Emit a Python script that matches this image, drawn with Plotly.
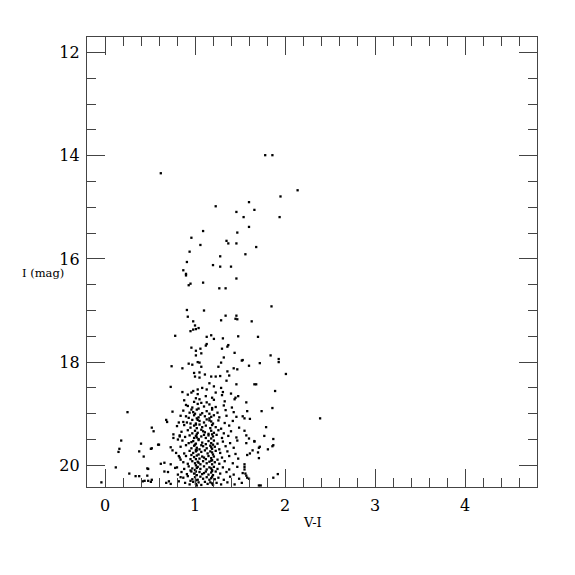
import plotly.graph_objects as go

# (V-I, I) pairs, grouped by region of the diagram
bright_stars = [
    (1.78, 13.99), (1.86, 13.99), (0.62, 14.34), (2.14, 14.67), (1.95, 14.79),
    (1.60, 14.90), (1.23, 14.98), (1.66, 15.05), (1.46, 15.09), (1.54, 15.19),
    (1.94, 15.19), (1.60, 15.38), (1.09, 15.46), (1.47, 15.49), (0.96, 15.59),
    (1.35, 15.65), (1.37, 15.70), (1.46, 15.70), (1.06, 15.73), (1.68, 15.77),
    (0.94, 15.86), (1.28, 15.95), (1.56, 15.91),
]

giant_stars = [
    (0.91, 16.06), (1.20, 16.12), (1.28, 16.15), (1.40, 16.15), (0.87, 16.22),
    (0.90, 16.29), (0.90, 16.32), (1.46, 16.38), (0.95, 16.48), (1.09, 16.46),
    (0.93, 16.51), (1.27, 16.57), (1.34, 16.57), (1.85, 16.92), (0.91, 16.99),
    (1.10, 17.00), (0.92, 17.12), (1.34, 17.10), (1.46, 17.10), (1.45, 17.16),
    (1.47, 17.17), (1.29, 17.19), (1.63, 17.21), (0.98, 17.21), (1.00, 17.29),
    (1.04, 17.34), (0.98, 17.37), (1.01, 17.36), (0.95, 17.40), (0.78, 17.49),
    (1.18, 17.48), (1.13, 17.51), (1.48, 17.50), (1.70, 17.51), (1.21, 17.55),
    (1.31, 17.54), (1.13, 17.65), (1.12, 17.68), (1.37, 17.67), (1.36, 17.70),
    (0.96, 17.72), (1.06, 17.74), (1.30, 17.74), (1.01, 17.78), (1.07, 17.83),
    (1.44, 17.82), (1.01, 17.87), (1.84, 17.87), (1.32, 17.91), (1.53, 17.96),
    (1.93, 17.94), (1.93, 18.00), (1.29, 18.01), (1.72, 18.02), (1.03, 18.00),
    (1.05, 18.01), (1.07, 18.09), (0.74, 18.08), (0.93, 18.03), (0.97, 18.05),
    (0.86, 18.12), (1.26, 18.09), (1.43, 18.12), (1.60, 18.07), (1.52, 17.97),
    (2.01, 18.23), (0.99, 18.21), (1.05, 18.20), (1.11, 18.24), (1.18, 18.28),
    (1.23, 18.28), (1.28, 18.27), (1.36, 18.18), (1.38, 18.26), (1.47, 18.14),
    (1.00, 18.28), (1.05, 18.30), (1.35, 18.36), (1.46, 18.43), (1.66, 18.43),
    (1.68, 18.43), (1.16, 18.41), (1.21, 18.47), (1.29, 18.50), (1.08, 18.50),
    (1.13, 18.53), (0.96, 18.59), (0.98, 18.56), (1.03, 18.53), (1.23, 18.59),
    (1.31, 18.58), (1.40, 18.61), (1.89, 18.56), (0.73, 18.48), (0.86, 18.58),
]

red_outliers = [
    (1.45, 18.69), (1.57, 18.78), (1.86, 18.89), (1.74, 18.95), (1.58, 18.95),
    (2.39, 19.09), (1.55, 19.09), (1.61, 19.10), (1.79, 19.26), (1.55, 19.33),
    (1.77, 19.43), (1.57, 19.42), (1.87, 19.49), (1.60, 19.48), (1.66, 19.54),
    (1.57, 19.57), (1.87, 19.61), (1.72, 19.64), (1.81, 19.69), (1.64, 19.71),
    (1.70, 19.75), (1.61, 19.77), (1.58, 19.80), (1.71, 19.86), (1.55, 19.98),
    (1.55, 20.03), (1.56, 20.16), (1.57, 20.20), (1.60, 20.26), (1.92, 20.17),
    (1.87, 20.24), (1.71, 20.39), (1.73, 20.39), (1.53, 19.05), (1.58, 20.24),
    (1.53, 20.15), (1.55, 20.08), (1.86, 19.63), (1.66, 19.53), (1.71, 19.66),
]

blue_stars = [
    (0.25, 18.97), (0.75, 18.96), (0.68, 19.12), (0.69, 19.16), (0.52, 19.27),
    (0.54, 19.34), (0.18, 19.52), (0.16, 19.68), (0.15, 19.74), (0.40, 19.58),
    (0.38, 19.73), (0.51, 19.68), (0.43, 19.83), (0.59, 19.60), (0.62, 19.97),
    (0.12, 20.04), (0.48, 20.07), (0.27, 20.16), (0.34, 20.21), (0.38, 20.21),
    (0.44, 20.30), (0.48, 20.30), (0.47, 20.20), (0.52, 20.28), (-0.04, 20.33),
    (0.66, 20.12), (0.70, 20.13), (0.68, 20.34), (0.76, 19.40), (0.83, 19.42),
    (0.82, 19.17), (0.87, 19.16), (0.90, 19.05), (0.94, 18.98), (0.96, 18.92),
    (0.92, 18.85), (0.52, 19.67), (0.60, 19.60), (0.73, 19.65), (0.75, 19.71),
    (0.76, 19.47), (0.81, 19.50), (0.83, 19.44), (0.66, 19.95), (0.79, 19.76),
    (0.82, 19.82), (0.84, 19.89), (0.47, 20.06), (0.73, 19.98), (0.78, 20.05),
    (0.81, 20.18), (0.84, 20.23), (0.82, 20.31), (0.71, 20.31), (0.73, 20.36),
    (0.42, 20.31), (0.51, 20.32),
]

turnoff_upper = [
    (0.92, 18.63), (1.03, 18.62), (1.12, 18.66), (1.19, 18.69), (1.30, 18.64),
    (1.01, 18.70), (1.48, 18.66),
    (0.88, 18.74), (0.99, 18.77), (1.05, 18.72), (1.13, 18.78), (1.21, 18.73),
    (1.33, 18.76), (1.44, 18.72), (1.07, 18.79),
    (0.90, 18.83), (0.97, 18.88), (1.03, 18.81), (1.10, 18.86), (1.16, 18.82),
    (1.23, 18.87), (1.32, 18.84), (1.41, 18.88), (1.04, 18.90), (1.19, 18.89),
    (0.87, 18.94), (0.98, 18.97), (1.02, 18.92), (1.08, 18.99), (1.13, 18.95),
    (1.19, 18.92), (1.25, 18.98), (1.34, 18.93), (1.43, 18.97), (1.00, 19.00),
    (1.16, 19.00),
    (0.84, 19.04), (0.93, 19.08), (0.99, 19.03), (1.04, 19.07), (1.06, 19.02),
    (1.11, 19.05), (1.16, 19.09), (1.21, 19.03), (1.27, 19.07), (1.35, 19.04),
    (1.46, 19.06), (1.02, 19.09), (1.18, 19.06),
    (0.91, 19.17), (0.97, 19.12), (1.01, 19.19), (1.05, 19.14), (1.10, 19.17),
    (1.13, 19.11), (1.18, 19.15), (1.20, 19.19), (1.26, 19.13), (1.33, 19.18),
    (1.42, 19.14), (1.03, 19.12), (1.16, 19.13), (0.95, 19.19),
    (0.80, 19.24), (0.88, 19.22), (0.95, 19.27), (0.99, 19.23), (1.02, 19.28),
    (1.05, 19.21), (1.08, 19.26), (1.12, 19.23), (1.17, 19.28), (1.19, 19.22),
    (1.23, 19.26), (1.29, 19.29), (1.38, 19.23), (1.49, 19.27), (1.01, 19.21),
    (0.85, 19.35), (0.92, 19.32), (0.97, 19.38), (1.00, 19.33), (1.03, 19.37),
    (1.07, 19.31), (1.11, 19.36), (1.15, 19.39), (1.18, 19.33), (1.21, 19.37),
    (1.26, 19.32), (1.32, 19.38), (1.40, 19.34), (1.02, 19.40), (1.19, 19.40),
    (1.09, 19.34),
    (0.89, 19.45), (0.94, 19.42), (0.99, 19.47), (1.01, 19.43), (1.04, 19.49),
    (1.07, 19.44), (1.12, 19.47), (1.15, 19.42), (1.18, 19.48), (1.20, 19.44),
    (1.24, 19.41), (1.30, 19.47), (1.37, 19.43), (1.46, 19.46), (1.02, 19.46),
    (1.10, 19.41),
]

turnoff_lower = [
    (0.86, 19.52), (0.93, 19.57), (0.98, 19.53), (1.01, 19.58), (1.04, 19.51),
    (1.08, 19.56), (1.12, 19.59), (1.15, 19.53), (1.18, 19.57), (1.21, 19.52),
    (1.25, 19.58), (1.31, 19.54), (1.39, 19.57), (1.47, 19.52), (1.00, 19.60),
    (1.20, 19.60), (0.96, 19.55),
    (0.84, 19.64), (0.90, 19.61), (0.96, 19.67), (0.99, 19.62), (1.02, 19.66),
    (1.05, 19.69), (1.09, 19.63), (1.13, 19.67), (1.17, 19.62), (1.19, 19.68),
    (1.22, 19.64), (1.27, 19.69), (1.34, 19.63), (1.43, 19.66), (1.01, 19.70),
    (1.18, 19.65), (1.07, 19.61),
    (0.88, 19.77), (0.94, 19.72), (0.98, 19.76), (1.01, 19.73), (1.04, 19.79),
    (1.07, 19.74), (1.11, 19.71), (1.14, 19.77), (1.17, 19.73), (1.20, 19.79),
    (1.23, 19.72), (1.28, 19.76), (1.36, 19.73), (1.45, 19.78), (1.02, 19.71),
    (1.19, 19.75), (0.96, 19.80),
    (0.83, 19.85), (0.90, 19.82), (0.95, 19.88), (0.99, 19.84), (1.02, 19.81),
    (1.05, 19.87), (1.08, 19.83), (1.12, 19.88), (1.15, 19.82), (1.18, 19.86),
    (1.21, 19.83), (1.25, 19.89), (1.30, 19.85), (1.38, 19.82), (1.48, 19.87),
    (1.01, 19.88), (1.19, 19.90), (1.10, 19.85),
    (0.87, 19.94), (0.92, 19.97), (0.97, 19.92), (1.00, 19.96), (1.03, 19.93),
    (1.06, 19.98), (1.09, 19.92), (1.13, 19.96), (1.16, 19.93), (1.19, 19.98),
    (1.22, 19.94), (1.27, 19.97), (1.33, 19.92), (1.42, 19.96), (1.01, 20.00),
    (1.18, 19.91), (1.04, 19.95),
    (0.80, 20.04), (0.88, 20.07), (0.93, 20.02), (0.97, 20.06), (1.00, 20.09),
    (1.03, 20.03), (1.06, 20.07), (1.10, 20.02), (1.13, 20.08), (1.16, 20.04),
    (1.19, 20.09), (1.21, 20.03), (1.25, 20.07), (1.31, 20.04), (1.38, 20.08),
    (1.47, 20.03), (1.02, 20.05), (1.18, 20.06), (0.95, 20.10),
    (0.85, 20.13), (0.91, 20.17), (0.96, 20.12), (0.99, 20.16), (1.02, 20.19),
    (1.05, 20.13), (1.08, 20.17), (1.12, 20.12), (1.15, 20.18), (1.18, 20.14),
    (1.20, 20.19), (1.23, 20.12), (1.28, 20.16), (1.35, 20.13), (1.43, 20.18),
    (1.01, 20.12), (1.19, 20.11), (1.10, 20.15),
    (0.87, 20.24), (0.92, 20.21), (0.97, 20.27), (1.00, 20.23), (1.03, 20.28),
    (1.06, 20.22), (1.09, 20.26), (1.13, 20.23), (1.16, 20.28), (1.19, 20.22),
    (1.22, 20.27), (1.26, 20.24), (1.32, 20.28), (1.39, 20.22), (1.49, 20.26),
    (1.01, 20.29), (1.18, 20.25), (0.95, 20.30),
    (0.89, 20.34), (0.94, 20.37), (0.98, 20.32), (1.01, 20.36), (1.04, 20.33),
    (1.07, 20.38), (1.11, 20.32), (1.14, 20.36), (1.17, 20.33), (1.20, 20.38),
    (1.24, 20.34), (1.29, 20.37), (1.36, 20.33), (1.44, 20.37), (1.52, 20.34),
    (1.02, 20.39), (1.19, 20.35),
]

x_tickvals = [0, 1, 2, 3, 4]
y_tickvals = [12, 14, 16, 18, 20]

groups = [bright_stars, giant_stars, red_outliers, blue_stars, turnoff_upper, turnoff_lower]
vi = [p[0] for g in groups for p in g]
imag = [p[1] for g in groups for p in g]

FONT = "DejaVu Serif"

fig = go.Figure()
fig.add_trace(go.Scatter(
    x=vi, y=imag, mode="markers",
    marker=dict(symbol="square", size=2.3, color="black", line=dict(width=0)),
    hoverinfo="skip", showlegend=False,
))

axis_common = dict(
    showgrid=False, zeroline=False, showline=True, linecolor="#444", linewidth=1.2,
    mirror="ticks", ticks="inside", ticklen=18, tickwidth=1.2, tickcolor="#444",
    tickfont=dict(family=FONT, size=16, color="black"),
)

fig.update_xaxes(
    range=[-0.2, 4.8], tickvals=x_tickvals, ticklabelstandoff=4,
    minor=dict(dtick=0.2, tick0=0, ticks="inside", ticklen=9, tickwidth=1.2, tickcolor="#444"),
    **axis_common,
)
fig.update_yaxes(
    range=[20.42, 11.7], tickvals=y_tickvals, ticklabelstandoff=3,
    minor=dict(dtick=0.5, tick0=0, ticks="inside", ticklen=9, tickwidth=1.2, tickcolor="#444"),
    **axis_common,
)

fig.add_annotation(text="V-I", x=0.502, y=-0.058, xref="paper", yref="paper",
                   xanchor="center", yanchor="top", showarrow=False,
                   font=dict(family=FONT, size=13, color="black"))
fig.add_annotation(text="I (mag)", x=-0.097, y=0.475, xref="paper", yref="paper",
                   xanchor="center", yanchor="middle", showarrow=False,
                   font=dict(family=FONT, size=11.5, color="black"))

fig.update_layout(
    width=575, height=575,
    margin=dict(l=79, r=46, t=29, b=96),
    plot_bgcolor="white", paper_bgcolor="white",
)

fig.write_html("out.html")
